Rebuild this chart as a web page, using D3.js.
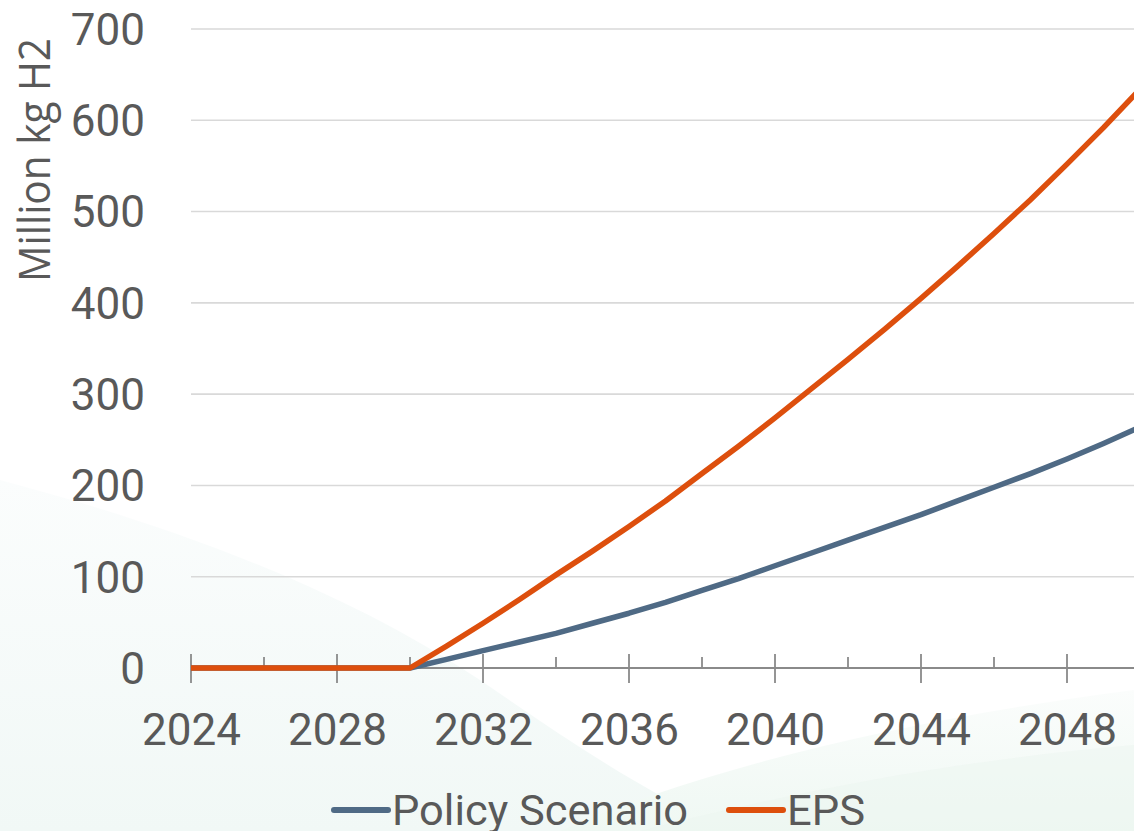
<!DOCTYPE html>
<html>
<head>
<meta charset="utf-8">
<script src="https://cdn.jsdelivr.net/npm/d3@7"></script>
<style>
  html, body { margin: 0; padding: 0; background: #ffffff; overflow: hidden; }
  svg { display: block; }
</style>
</head>
<body>
<svg id="chart" width="1134" height="831"></svg>
<script>
// ---------- DATA ----------
const years = [2024, 2025, 2026, 2027, 2028, 2029, 2030, 2031, 2032, 2033, 2034, 2035, 2036, 2037,
               2038, 2039, 2040, 2041, 2042, 2043, 2044, 2045, 2046, 2047, 2048, 2049, 2050];
const policyScenario = [0, 0, 0, 0, 0, 0, 0, 9.5, 19, 28.5, 38, 49, 60, 72,
                        85, 98, 112, 126, 140, 154, 168, 183, 198, 213, 229, 246, 264];
const eps = [0, 0, 0, 0, 0, 0, 0, 24, 49, 75, 102, 128, 155, 183,
             213, 243, 274, 306, 338, 371, 405, 440, 476, 513, 552, 592, 634];
const seriesNames = ["Policy Scenario", "EPS"];
const xMajorTicks = [2024, 2028, 2032, 2036, 2040, 2044, 2048];
const xMinorTicks = [2026, 2030, 2034, 2038, 2042, 2046, 2050];
const yTicks = [0, 100, 200, 300, 400, 500, 600, 700];
const yAxisTitle = "Million kg H2";

// ---------- SETUP ----------
const svg = d3.select("#chart");
const colors = { "Policy Scenario": "#4f6a85", "EPS": "#dd4f0d" };
const textColor = "#595959";

const x = d3.scaleLinear().domain([2024, 2050]).range([191, 1140]);
const y = d3.scaleLinear().domain([0, 700]).range([668, 29]);

// ---------- BACKGROUND DECORATION ----------
const defs = svg.append("defs");
const g1 = defs.append("linearGradient").attr("id", "bgLeft").attr("x1", 0).attr("y1", 0).attr("x2", 0).attr("y2", 1);
g1.append("stop").attr("offset", "0%").attr("stop-color", "#fbfdfd");
g1.append("stop").attr("offset", "100%").attr("stop-color", "#f1f8f6");
const g2 = defs.append("linearGradient").attr("id", "bgRight").attr("x1", 0).attr("y1", 0).attr("x2", 0).attr("y2", 1);
g2.append("stop").attr("offset", "0%").attr("stop-color", "#fbfdfc");
g2.append("stop").attr("offset", "100%").attr("stop-color", "#eff8f3");

svg.append("path")
  .attr("d", "M0,480 C150,520 330,580 480,680 C560,735 640,790 730,831 L0,831 Z")
  .attr("fill", "url(#bgLeft)");
svg.append("path")
  .attr("d", "M560,831 C700,770 900,720 1134,690 L1134,831 Z")
  .attr("fill", "url(#bgRight)");
svg.append("path")
  .attr("d", "M640,831 C800,790 960,760 1134,745 L1134,831 Z")
  .attr("fill", "#ecf6f0")
  .attr("opacity", 0.5);

// ---------- GRIDLINES ----------
svg.append("g").selectAll("line")
  .data(yTicks.filter(d => d > 0))
  .join("line")
  .attr("x1", x(2024)).attr("x2", x(2050))
  .attr("y1", d => y(d)).attr("y2", d => y(d))
  .attr("stroke", "#d9d9d9").attr("stroke-width", 1.6);

// ---------- Y AXIS LABELS ----------
const yAxis = d3.axisLeft(y).tickValues(yTicks).tickSize(0).tickPadding(0).tickFormat(d3.format("d"));
const yG = svg.append("g").attr("transform", "translate(145,0)").call(yAxis);
yG.select(".domain").remove();
yG.selectAll("text")
  .attr("font-family", "Roboto, 'Liberation Sans', sans-serif")
  .attr("font-size", 44)
  .attr("fill", textColor)
  .attr("dy", "0.35em")
  .attr("text-anchor", "end");

// ---------- X AXIS ----------
const xAxisLine = svg.append("g");
xAxisLine.append("line")
  .attr("x1", x(2024)).attr("x2", x(2050))
  .attr("y1", y(0)).attr("y2", y(0))
  .attr("stroke", "#8a8a8a").attr("stroke-width", 1.8);
xAxisLine.selectAll(".major")
  .data(xMajorTicks)
  .join("line").attr("class", "major")
  .attr("x1", d => x(d)).attr("x2", d => x(d))
  .attr("y1", y(0) - 14).attr("y2", y(0) + 15)
  .attr("stroke", "#8a8a8a").attr("stroke-width", 1.8);
xAxisLine.selectAll(".minor")
  .data(xMinorTicks)
  .join("line").attr("class", "minor")
  .attr("x1", d => x(d)).attr("x2", d => x(d))
  .attr("y1", y(0) - 11).attr("y2", y(0))
  .attr("stroke", "#8a8a8a").attr("stroke-width", 1.8);

const xAxis = d3.axisBottom(x).tickValues(xMajorTicks).tickSize(0).tickPadding(0).tickFormat(d3.format("d"));
const xG = svg.append("g").attr("transform", "translate(0,745)").call(xAxis);
xG.select(".domain").remove();
xG.selectAll("text")
  .attr("font-family", "Roboto, 'Liberation Sans', sans-serif")
  .attr("font-size", 44)
  .attr("fill", textColor)
  .attr("dy", 0)
  .attr("y", 0);

// ---------- Y TITLE ----------
svg.append("text")
  .attr("transform", "translate(50,160) rotate(-90)")
  .attr("text-anchor", "middle")
  .attr("font-family", "'Open Sans', Roboto, sans-serif")
  .attr("font-size", 43)
  .attr("textLength", 244)
  .attr("lengthAdjust", "spacingAndGlyphs")
  .attr("fill", textColor)
  .text(yAxisTitle);

// ---------- LINES ----------
const line = d3.line()
  .x((d, i) => x(years[i]))
  .y(d => y(d))
  .curve(d3.curveLinear);

const seriesData = [
  { name: "Policy Scenario", values: policyScenario },
  { name: "EPS", values: eps }
];

svg.append("g").selectAll("path")
  .data(seriesData)
  .join("path")
  .attr("d", d => line(d.values))
  .attr("fill", "none")
  .attr("stroke", d => colors[d.name])
  .attr("stroke-width", 5.5)
  .attr("stroke-linejoin", "round")
  .attr("stroke-linecap", "butt");

// ---------- LEGEND ----------
const legendItems = [
  { name: seriesNames[0], x0: 334, x1: 388, tx: 392, len: 296 },
  { name: seriesNames[1], x0: 729, x1: 783, tx: 787, len: 78 }
];
const lg = svg.append("g");
lg.selectAll("line")
  .data(legendItems)
  .join("line")
  .attr("x1", d => d.x0).attr("x2", d => d.x1)
  .attr("y1", 810).attr("y2", 810)
  .attr("stroke", d => colors[d.name])
  .attr("stroke-width", 6)
  .attr("stroke-linecap", "round");
lg.selectAll("text")
  .data(legendItems)
  .join("text")
  .attr("x", d => d.tx)
  .attr("y", 825)
  .attr("font-family", "Roboto, 'Liberation Sans', sans-serif")
  .attr("font-size", 42)
  .attr("textLength", d => d.len)
  .attr("lengthAdjust", "spacingAndGlyphs")
  .attr("fill", textColor)
  .text(d => d.name);
</script>
</body>
</html>
